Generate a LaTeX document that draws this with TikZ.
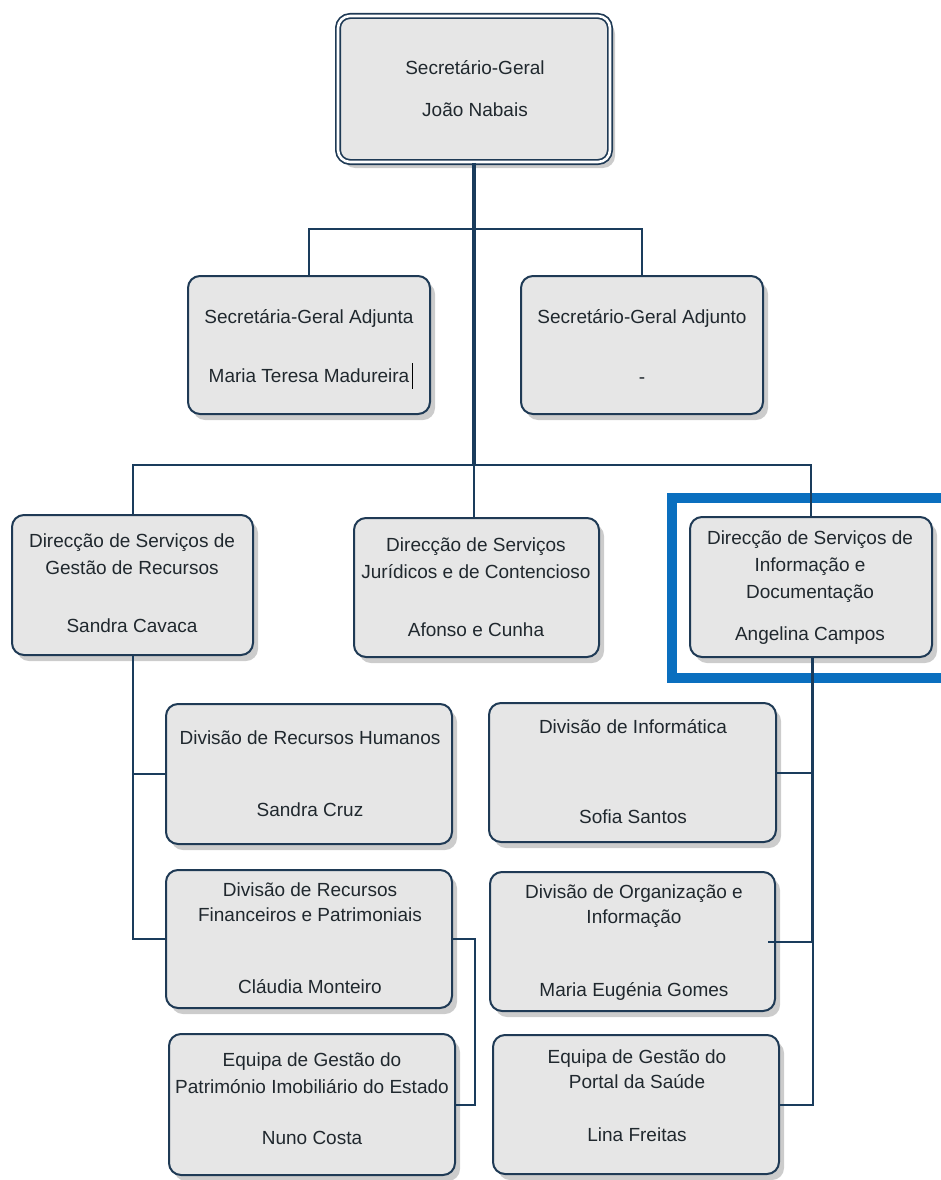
\documentclass[tikz,border=0pt]{standalone}
\usepackage{fontspec}
\setmainfont{Liberation Sans}
\usetikzlibrary{shadows}
\definecolor{boxfill}{HTML}{E6E6E6}
\definecolor{boxline}{HTML}{1F3A55}
\definecolor{linkc}{HTML}{1A3C5C}
\definecolor{ink}{HTML}{20282E}
\definecolor{hl}{HTML}{0A6FBF}
\tikzset{
  box/.style={draw=boxline, line width=2pt, fill=boxfill, rounded corners=12pt,
    inner sep=0pt, drop shadow={shadow xshift=5pt, shadow yshift=-6pt, fill=black!40, opacity=0.5}},
  topbox/.style={box, line width=1.7pt, double=white, double distance=2.6pt},
  lbl/.style={inner sep=0pt, text height=13.6pt, text depth=0pt, text=ink,
    font=\fontsize{19}{26}\selectfont},
  link/.style={draw=linkc, line width=2pt},
  trunk/.style={draw=linkc, line width=3.8pt},
}
\begin{document}
\begin{tikzpicture}[x=1pt, y=-1pt]
\useasboundingbox (0,0) rectangle (941,1180);

% highlight frame around the information directorate
\draw[hl, line width=10pt] (672,498) rectangle (980,678);

% boxes
\node[topbox, minimum width=272pt, minimum height=146pt] (sg) at (474,89) {};
\node[box, minimum width=242pt, minimum height=138pt] (sga) at (309,345) {};
\node[box, minimum width=242pt, minimum height=138pt] (sgo) at (642,345) {};
\node[box, minimum width=241pt, minimum height=140pt] (dsgr) at (132.5,585) {};
\node[box, minimum width=245pt, minimum height=139pt] (dsjc) at (476.5,587.5) {};
\node[box, minimum width=242pt, minimum height=140pt] (dsid) at (811,587) {};
\node[box, minimum width=286pt, minimum height=140pt] (drh) at (309,774) {};
\node[box, minimum width=286pt, minimum height=138pt] (drfp) at (309,939) {};
\node[box, minimum width=286pt, minimum height=141pt] (egp) at (312,1104.5) {};
\node[box, minimum width=287pt, minimum height=139pt] (dinf) at (632.5,772.5) {};
\node[box, minimum width=285pt, minimum height=139pt] (dorg) at (632.5,941.5) {};
\node[box, minimum width=286pt, minimum height=139pt] (eps) at (636,1104.5) {};

% labels
\node[lbl] (sg1) at (475,68) {Secretário-Geral};
\node[lbl] (sg2) at (475,110) {João Nabais};
\node[lbl] (sga1) at (309,317) {Secretária-Geral Adjunta};
\node[lbl] (sga2) at (309,376) {Maria Teresa Madureira};
\node[lbl] (sgo1) at (642,317) {Secretário-Geral Adjunto};
\node[lbl] (sgo2) at (642,377) {-};
\node[lbl] (dsgr1) at (132,541) {Direcção de Serviços de};
\node[lbl] (dsgr2) at (132,568) {Gestão de Recursos};
\node[lbl] (dsgr3) at (132,626) {Sandra Cavaca};
\node[lbl] (dsjc1) at (476,545) {Direcção de Serviços};
\node[lbl] (dsjc2) at (476,572) {Jurídicos e de Contencioso};
\node[lbl] (dsjc3) at (476,630) {Afonso e Cunha};
\node[lbl] (dsid1) at (810,538) {Direcção de Serviços de};
\node[lbl] (dsid2) at (810,565) {Informação e};
\node[lbl] (dsid3) at (810,592) {Documentação};
\node[lbl] (dsid4) at (810,634) {Angelina Campos};
\node[lbl] (drh1) at (310,738) {Divisão de Recursos Humanos};
\node[lbl] (drh2) at (310,810) {Sandra Cruz};
\node[lbl] (drfp1) at (310,890) {Divisão de Recursos};
\node[lbl] (drfp2) at (310,915) {Financeiros e Patrimoniais};
\node[lbl] (drfp3) at (310,987) {Cláudia Monteiro};
\node[lbl] (egp1) at (312,1060) {Equipa de Gestão do};
\node[lbl] (egp2) at (312,1087) {Património Imobiliário do Estado};
\node[lbl] (egp3) at (312,1138) {Nuno Costa};
\node[lbl] (dinf1) at (633,727) {Divisão de Informática};
\node[lbl] (dinf2) at (633,817) {Sofia Santos};
\node[lbl] (dorg1) at (634,892) {Divisão de Organização e};
\node[lbl] (dorg2) at (634,917) {Informação};
\node[lbl] (dorg3) at (634,990) {Maria Eugénia Gomes};
\node[lbl] (eps1) at (637,1057) {Equipa de Gestão do};
\node[lbl] (eps2) at (637,1082) {Portal da Saúde};
\node[lbl] (eps3) at (637,1135) {Lina Freitas};

% text cursor after the name
\draw[black, line width=1pt] ([xshift=3pt]sga2.east) ++(0,-13) -- ++(0,26);

% junction points
\coordinate (j1) at (474,229);
\coordinate (j2) at (474,465);
\coordinate (rx) at (475,0);
\coordinate (rv) at ([xshift=1.5pt]dsid.south);

% connectors
\draw[trunk] (sg.south) -- (j2);
\draw[link, line width=2.6pt] (j2) -- (j2 |- dsjc.north);
\draw[link] (sga.north) -- (sga.north |- j1) -- (sgo.north |- j1) -- (sgo.north);
\draw[link] (dsgr.north) -- (dsgr.north |- j2) -- (dsid.north |- j2) -- (dsid.north);
\draw[link] (dsgr.south) -- (dsgr.south |- drfp.west) -- (drfp.west);
\draw[link] (drh.west) -- (drh.west -| dsgr.south);
\draw[link] (drfp.east) -- (drfp.east -| rx) -- (egp.east -| rx) -- (egp.east);
\draw[trunk] (rv) -- (rv |- dorg.east);
\draw[link] (rv |- dorg.east) -- (rv |- eps.east) -- (eps.east);
\draw[link] (dinf.east) -- (dinf.east -| rv);
\draw[link] ([xshift=-8pt]dorg.east) -- (rv |- dorg.east);
\end{tikzpicture}
\end{document}
